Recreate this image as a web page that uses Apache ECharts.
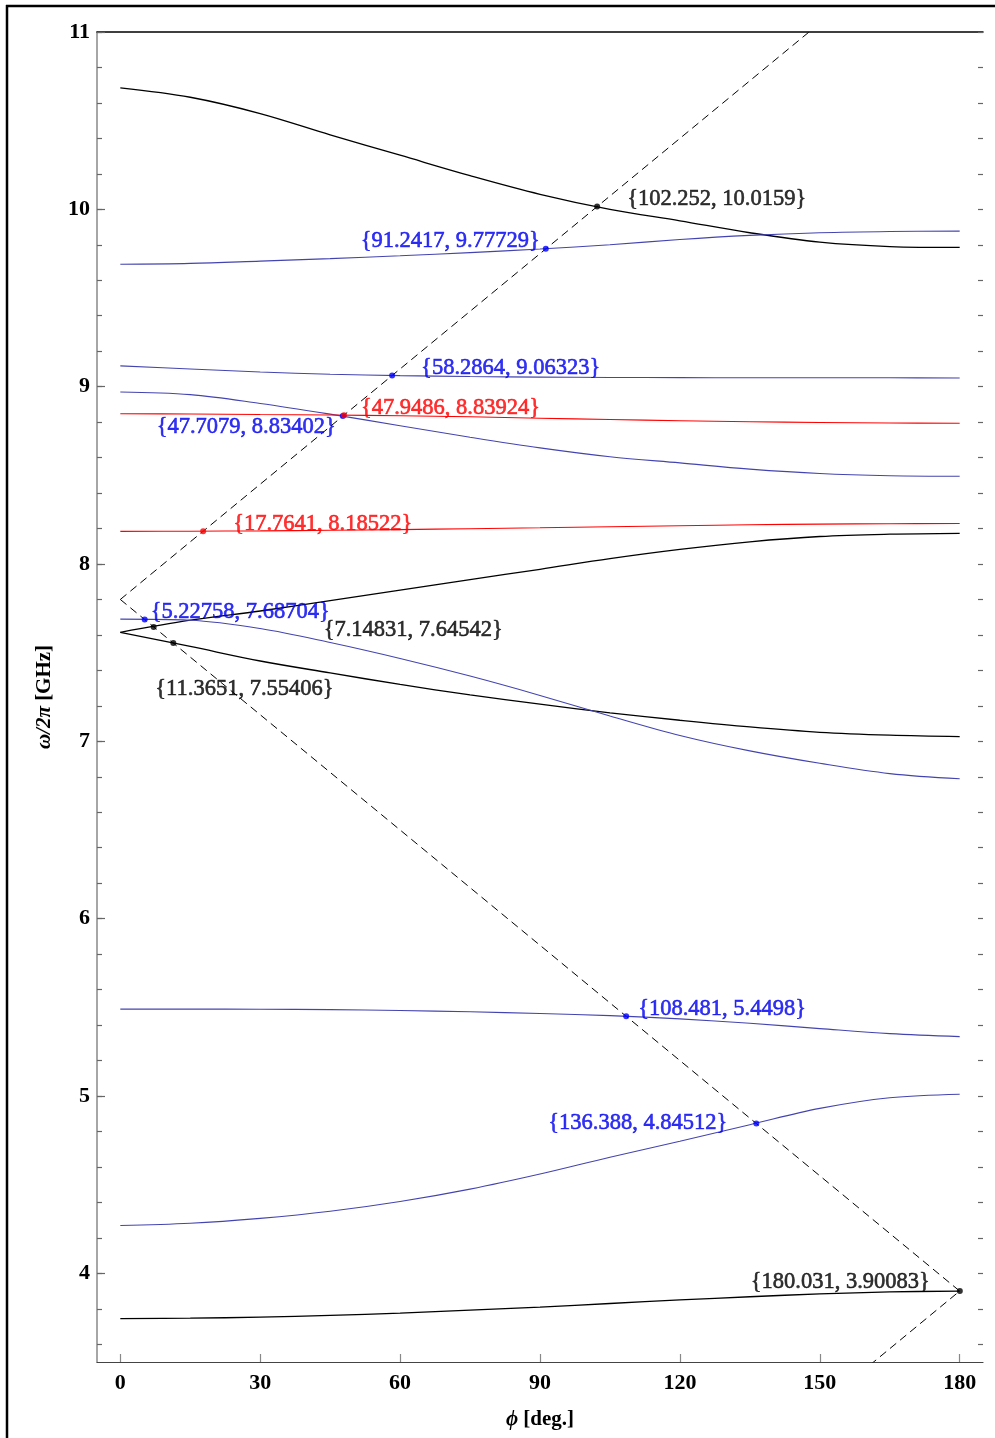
<!DOCTYPE html>
<html><head><meta charset="utf-8">
<script src="https://cdn.jsdelivr.net/npm/echarts@6/dist/echarts.min.js"></script>
<style>html,body{margin:0;padding:0;background:#fff}#c{width:995px;height:1438px}</style>
</head><body><div id="c"></div>
<script>
// ---------------- data ----------------
const PHI = [0, 15, 30, 45, 60, 75, 90, 105, 120, 135, 150, 165, 180];

const BLACK_1 = [10.685, 10.632, 10.54, 10.42, 10.305, 10.19, 10.085, 10.0, 9.935, 9.868, 9.815, 9.79, 9.785];
const BLACK_2 = [7.615, 7.683, 7.735, 7.793, 7.853, 7.912, 7.97, 8.03, 8.082, 8.125, 8.155, 8.168, 8.173];
const BLACK_3 = [7.615, 7.535, 7.453, 7.386, 7.321, 7.262, 7.21, 7.161, 7.119, 7.081, 7.051, 7.035, 7.027];
const BLACK_4 = [3.745, 3.747, 3.753, 3.763, 3.776, 3.792, 3.81, 3.83, 3.85, 3.868, 3.884, 3.895, 3.9];

const BLUE_1 = [9.69, 9.695, 9.708, 9.722, 9.738, 9.756, 9.776, 9.80, 9.83, 9.853, 9.868, 9.875, 9.877];
const BLUE_2 = [9.117, 9.10, 9.083, 9.07, 9.062, 9.057, 9.054, 9.052, 9.051, 9.05, 9.05, 9.05, 9.049];
const BLUE_3 = [8.97, 8.955, 8.905, 8.845, 8.78, 8.715, 8.655, 8.605, 8.57, 8.535, 8.51, 8.498, 8.495];
const BLUE_4 = [7.689, 7.683, 7.636, 7.557, 7.467, 7.368, 7.259, 7.143, 7.033, 6.946, 6.876, 6.818, 6.789];
const BLUE_5 = [5.49, 5.49, 5.489, 5.487, 5.482, 5.475, 5.465, 5.453, 5.435, 5.41, 5.38, 5.352, 5.335];
const BLUE_6 = [4.27, 4.282, 4.31, 4.35, 4.405, 4.475, 4.56, 4.655, 4.745, 4.838, 4.93, 4.99, 5.01];

const RED_1 = [8.847, 8.846, 8.843, 8.840, 8.836, 8.83, 8.822, 8.815, 8.808, 8.802, 8.798, 8.795, 8.794];
const RED_2 = [8.184, 8.185, 8.187, 8.19, 8.194, 8.199, 8.204, 8.21, 8.216, 8.221, 8.225, 8.227, 8.228];

// light lines (dashed)
const LIGHT_UPPER = [[0, 7.80], [180, 11.70]];
const LIGHT_LOWER = [[0, 7.80], [180, 3.90]];
const LIGHT_FOLD  = [[150, 3.25], [180, 3.90]];

// marked intersection points
const POINTS_BLACK = [[102.252, 10.0159], [7.14831, 7.64542], [11.3651, 7.55406], [180.031, 3.90083]];
const POINTS_BLUE  = [[91.2417, 9.77729], [58.2864, 9.06323], [47.7079, 8.83402], [5.22758, 7.68704], [108.481, 5.4498], [136.388, 4.84512]];
const POINTS_RED   = [[47.9486, 8.83924], [17.7641, 8.18522]];

// ticks
const X_TICKS = [0, 30, 60, 90, 120, 150, 180];
const Y_MAJOR = [4, 5, 6, 7, 8, 9, 10, 11];

// ---------------- styling / layout ----------------
const FONT = "'Liberation Serif', 'DejaVu Serif', serif";
const Y_MINOR = [];
for (let k = 18; k <= 55; k++) Y_MINOR.push(+(k * 0.2).toFixed(1));

// label layout per point: [align, dx, dy]
const LAY_BLACK = [['left', 30, -7], ['left', 170, 3], ['left', -18, 46], ['right', -30, -9]];
const LAY_BLUE  = [['right', -6, -8], ['left', 29, -7], ['right', -7, 11], ['left', 6, -7], ['left', 12, -7], ['right', -29, 0]];
const LAY_RED   = [['left', 17, -7], ['left', 30, -7]];

const BLUE_LINE = '#4444b0';
const BLUE_TXT = '#0000f0';
const RED = '#ff0000';

function curve(arr, color, width) {
  return {
    type: 'line', xAxisIndex: 0, yAxisIndex: 0,
    data: PHI.map((x, i) => [x, arr[i]]),
    showSymbol: false, smooth: 0.35, clip: true, silent: true,
    lineStyle: { color: color, width: width }, z: 3
  };
}
function dashed(pts) {
  return {
    type: 'line', xAxisIndex: 0, yAxisIndex: 0, data: pts, showSymbol: false, clip: true, silent: true,
    lineStyle: { color: '#000', width: 1, type: [8, 5] }, z: 2
  };
}
function points(pts, lay, color, txtColor) {
  return {
    type: 'scatter', xAxisIndex: 0, yAxisIndex: 0, symbolSize: 6, clip: false, z: 5,
    itemStyle: { color: color },
    data: pts.map((p, i) => ({
      value: p,
      label: {
        show: true, position: 'inside', align: lay[i][0], verticalAlign: 'middle',
        offset: [lay[i][1], lay[i][2]],
        formatter: '{' + p[0] + ', ' + p[1] + '}'
      }
    })),
    label: { color: txtColor, fontFamily: FONT, fontSize: 22.5, textBorderColor: txtColor, textBorderWidth: 0.6 }
  };
}

const chart = echarts.init(document.getElementById('c'), null, { renderer: 'canvas' });
chart.setOption({
  animation: false,
  backgroundColor: '#fff',
  grid: { left: 97, right: 12, top: 32, bottom: 76, containLabel: false },
  xAxis: [
    {
      type: 'value', min: -5, max: 185, position: 'bottom',
      axisLine: { show: true, onZero: false, lineStyle: { color: '#444', width: 1.2 } },
      axisTick: { show: true, inside: true, length: 8, customValues: X_TICKS, lineStyle: { color: '#888', width: 1.2 } },
      axisLabel: { customValues: X_TICKS, fontFamily: FONT, fontSize: 22, fontWeight: 'bold', color: '#000', margin: 10 },
      splitLine: { show: false },
      name: '{i|ϕ} {n|[deg.]}', nameLocation: 'middle', nameGap: 47,
      nameTextStyle: { fontFamily: FONT, fontSize: 21, color: '#000', fontWeight: 'bold',
        rich: { i: { fontFamily: FONT, fontSize: 21, fontStyle: 'italic', fontWeight: 'bold' },
                n: { fontFamily: FONT, fontSize: 21, fontWeight: 'bold' } } }
    },
    {
      type: 'value', min: -5, max: 185, position: 'top',
      axisLine: { show: true, onZero: false, lineStyle: { color: '#000', width: 1.5 } },
      axisTick: { show: false }, axisLabel: { show: false }, splitLine: { show: false }
    }
  ],
  yAxis: [
    {
      type: 'value', min: 3.5, max: 11, position: 'left',
      axisLine: { show: true, onZero: false, lineStyle: { color: '#888', width: 1.5 } },
      axisTick: { show: true, inside: true, length: 8, customValues: Y_MAJOR, lineStyle: { color: '#666', width: 1.2 } },
      axisLabel: { customValues: Y_MAJOR, fontFamily: FONT, fontSize: 22, fontWeight: 'bold', color: '#000', margin: 7 },
      splitLine: { show: false },
      name: '{i|ω/2π} {n|[GHz]}', nameLocation: 'middle', nameRotate: 90, nameGap: 42,
      nameTextStyle: { fontFamily: FONT, fontSize: 21, color: '#000', fontWeight: 'bold',
        rich: { i: { fontFamily: FONT, fontSize: 21, fontStyle: 'italic', fontWeight: 'bold' },
                n: { fontFamily: FONT, fontSize: 21, fontWeight: 'bold' } } }
    },
    {
      type: 'value', min: 3.5, max: 11, position: 'left',
      axisLine: { show: false, onZero: false },
      axisTick: { show: true, inside: true, length: 5, customValues: Y_MINOR, lineStyle: { color: '#666', width: 1.2 } },
      axisLabel: { show: false }, splitLine: { show: false }
    },
    {
      type: 'value', min: 3.5, max: 11, position: 'right',
      axisLine: { show: false, onZero: false },
      axisTick: { show: true, inside: true, length: 5, customValues: Y_MINOR, lineStyle: { color: '#666', width: 1.2 } },
      axisLabel: { show: false }, splitLine: { show: false }
    }
  ],
  graphic: [
    { type: 'line', shape: { x1: 7, y1: 5, x2: 7, y2: 1438 }, style: { stroke: '#000', lineWidth: 2.5 } },
    { type: 'line', shape: { x1: 6, y1: 6, x2: 995, y2: 6 }, style: { stroke: '#000', lineWidth: 2.5 } }
  ],
  series: [
    dashed(LIGHT_UPPER), dashed(LIGHT_LOWER), dashed(LIGHT_FOLD),
    curve(BLACK_1, '#000', 1.3), curve(BLACK_2, '#000', 1.3), curve(BLACK_3, '#000', 1.3), curve(BLACK_4, '#000', 1.3),
    curve(BLUE_1, BLUE_LINE, 1.1), curve(BLUE_2, BLUE_LINE, 1.1), curve(BLUE_3, BLUE_LINE, 1.1),
    curve(BLUE_4, BLUE_LINE, 1.1), curve(BLUE_5, BLUE_LINE, 1.1), curve(BLUE_6, BLUE_LINE, 1.1),
    curve(RED_1, RED, 1.1), curve(RED_2, RED, 1.1),
    points(POINTS_BLUE, LAY_BLUE, '#0000ff', BLUE_TXT),
    points(POINTS_RED, LAY_RED, RED, RED),
    points(POINTS_BLACK, LAY_BLACK, '#000', '#000')
  ]
});
</script>
</body></html>
